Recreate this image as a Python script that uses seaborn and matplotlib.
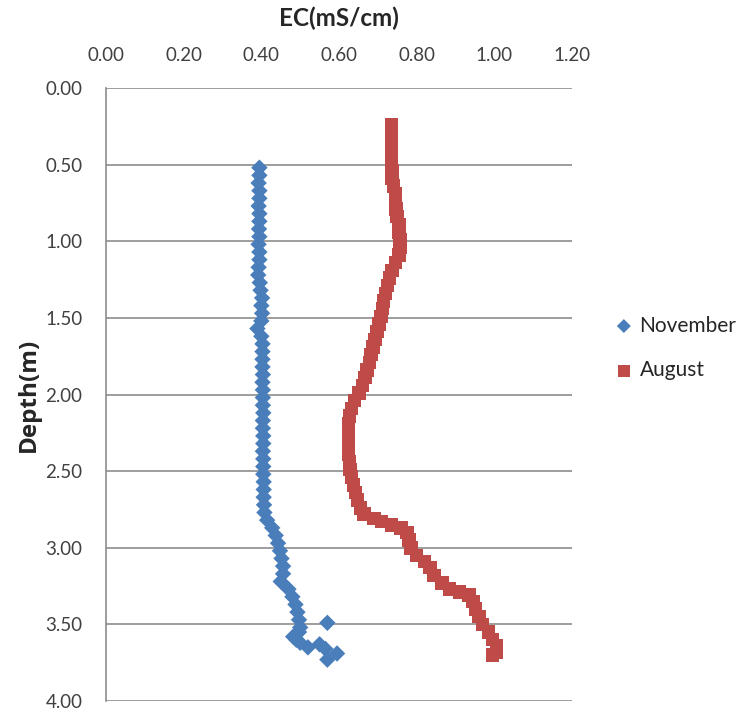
import matplotlib
matplotlib.use('Agg')
import matplotlib.pyplot as plt
import seaborn as sns
import pandas as pd

# EC profiles (mS/cm) against depth (m)
nov_depth = [0.52, 0.57, 0.62, 0.67, 0.72, 0.77, 0.82, 0.87, 0.92, 0.97,
             1.02, 1.07, 1.12, 1.17, 1.22, 1.27, 1.32, 1.37, 1.42, 1.47,
             1.52, 1.57, 1.62, 1.67, 1.72, 1.77, 1.82, 1.87, 1.92, 1.97,
             2.02, 2.07, 2.12, 2.17, 2.22, 2.27, 2.32, 2.37, 2.42, 2.47,
             2.52, 2.57, 2.62, 2.67, 2.72, 2.77, 2.82, 2.87, 2.92, 2.97,
             3.02, 3.07, 3.12, 3.17, 3.22, 3.27, 3.32, 3.37, 3.42, 3.47,
             3.52, 3.55, 3.58, 3.60, 3.62, 3.65,
             3.49, 3.63, 3.66, 3.69, 3.73]
nov_ec = [0.395, 0.395, 0.393, 0.395, 0.395, 0.393, 0.395, 0.395, 0.394, 0.395,
          0.393, 0.395, 0.395, 0.393, 0.392, 0.396, 0.398, 0.402, 0.400, 0.402,
          0.400, 0.390, 0.400, 0.403, 0.403, 0.403, 0.403, 0.404, 0.403, 0.404,
          0.404, 0.404, 0.405, 0.404, 0.404, 0.405, 0.405, 0.404, 0.405, 0.405,
          0.405, 0.406, 0.406, 0.406, 0.407, 0.408, 0.415, 0.428, 0.437, 0.443,
          0.448, 0.452, 0.456, 0.456, 0.450, 0.470, 0.480, 0.488, 0.493, 0.497,
          0.500, 0.497, 0.482, 0.490, 0.500, 0.520,
          0.570, 0.550, 0.565, 0.595, 0.570]

aug_depth = [0.24, 0.29, 0.34, 0.39, 0.44, 0.49, 0.54, 0.59, 0.64, 0.69,
             0.74, 0.79, 0.84, 0.89, 0.94, 0.99, 1.04, 1.09, 1.14, 1.19,
             1.24, 1.29, 1.34, 1.39, 1.44, 1.49, 1.54, 1.59, 1.64, 1.69,
             1.74, 1.79, 1.84, 1.89, 1.94, 1.99, 2.04, 2.09, 2.14, 2.19,
             2.24, 2.29, 2.34, 2.39, 2.44, 2.49, 2.54, 2.59, 2.64, 2.69,
             2.74, 2.78, 2.81, 2.83, 2.85, 2.87, 2.90, 2.95, 3.00, 3.05,
             3.09, 3.13, 3.18, 3.23, 3.27, 3.29, 3.31, 3.35, 3.40, 3.45,
             3.50, 3.55, 3.60, 3.64, 3.68, 3.70]
aug_ec = [0.735, 0.735, 0.735, 0.735, 0.735, 0.735, 0.737, 0.737, 0.740, 0.745,
          0.745, 0.747, 0.750, 0.755, 0.755, 0.757, 0.757, 0.755, 0.745, 0.737,
          0.730, 0.725, 0.720, 0.715, 0.712, 0.708, 0.703, 0.698, 0.693, 0.688,
          0.683, 0.678, 0.672, 0.667, 0.660, 0.652, 0.640, 0.632, 0.627, 0.625,
          0.625, 0.625, 0.625, 0.625, 0.627, 0.628, 0.632, 0.637, 0.642, 0.648,
          0.655, 0.665, 0.690, 0.710, 0.735, 0.760, 0.775, 0.780, 0.785, 0.800,
          0.820, 0.835, 0.845, 0.865, 0.885, 0.910, 0.935, 0.945, 0.952, 0.960,
          0.970, 0.985, 0.995, 1.005, 1.005, 0.995]

x_ticks = [0.0, 0.2, 0.4, 0.6, 0.8, 1.0, 1.2]
y_ticks = [0.0, 0.5, 1.0, 1.5, 2.0, 2.5, 3.0, 3.5, 4.0]

nov = pd.DataFrame({'ec': nov_ec, 'depth': nov_depth})
aug = pd.DataFrame({'ec': aug_ec, 'depth': aug_depth})

sns.set_style('white')
plt.rcParams['font.family'] = ['Lato', 'DejaVu Sans']

fig = plt.figure(figsize=(7.49, 7.11), dpi=100)
ax = fig.add_axes([106 / 749, 1 - 701 / 711, 466 / 749, 613 / 711])

sns.scatterplot(data=nov, x='ec', y='depth', marker='D', s=70,
                color='#4A7EBB', edgecolor='none', label='November', ax=ax)
sns.scatterplot(data=aug, x='ec', y='depth', marker='s', s=95,
                color='#BE4B48', edgecolor='none', label='August', ax=ax)

ax.set_xlim(0, 1.2)
ax.set_ylim(4.0, 0.0)
ax.set_xticks(x_ticks)
ax.set_yticks(y_ticks)
ax.set_xticklabels([f'{v:.2f}' for v in x_ticks])
ax.set_yticklabels([f'{v:.2f}' for v in y_ticks])
ax.xaxis.tick_top()
ax.tick_params(axis='x', length=0, pad=17, labelsize=13.5, labelcolor='#404040')
ax.tick_params(axis='y', length=0, pad=17, labelsize=13.5, labelcolor='#404040')

ax.yaxis.grid(True, color='#8C8C8C', linewidth=1.2)
ax.xaxis.grid(False)
ax.set_axisbelow(True)
for side in ['top', 'right', 'bottom']:
    ax.spines[side].set_visible(False)
ax.spines['left'].set_color('#8C8C8C')
ax.spines['left'].set_linewidth(1.2)

ax.set_xlabel('')
ax.set_ylabel('Depth(m)', fontsize=17.5, fontweight='bold', labelpad=3,
              family=['Open Sans', 'DejaVu Sans'])
fig.text(339 / 749, 1 - 18 / 711, 'EC(mS/cm)', ha='center', va='center',
         fontsize=17.5, fontweight='bold')

ax.legend_.remove()
h, l = ax.get_legend_handles_labels()
fig.legend(h, l, loc='center left', bbox_to_anchor=(603 / 749, 1 - 348 / 711),
           frameon=False, fontsize=15, handlelength=1.0, handletextpad=0.25,
           labelspacing=1.2, borderpad=0, markerscale=0.85)

fig.savefig('out.png', dpi=100)
